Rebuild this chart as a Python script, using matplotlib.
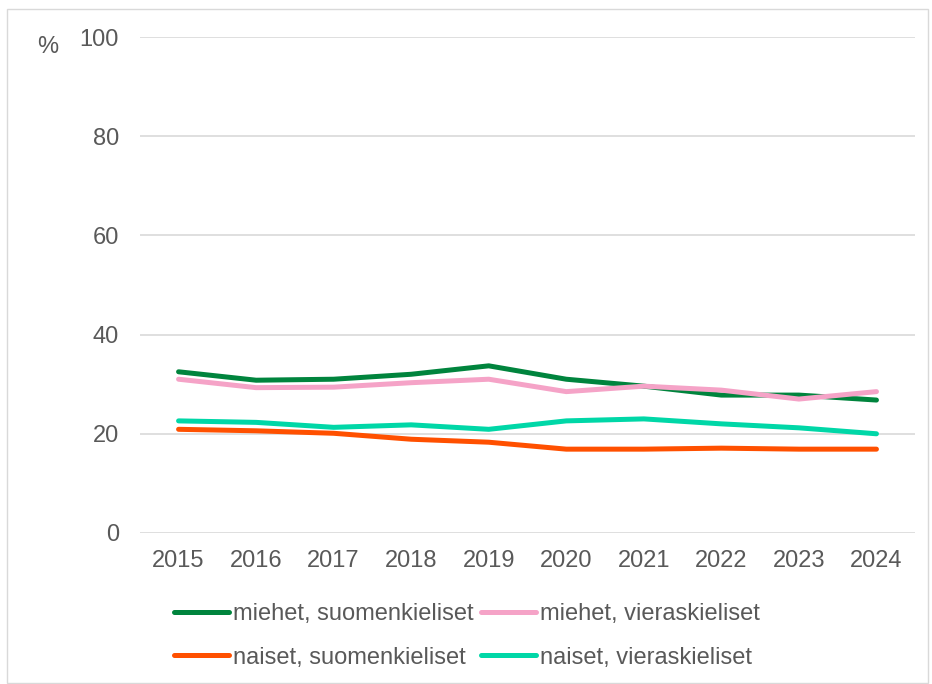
import matplotlib.pyplot as plt
from matplotlib.patches import Rectangle

plt.rcParams["font.family"] = ["Liberation Sans", "DejaVu Sans"]

years = ["2015", "2016", "2017", "2018", "2019", "2020", "2021", "2022", "2023", "2024"]
miehet_suomi = [32.5, 30.8, 31.0, 32.0, 33.7, 31.0, 29.6, 27.8, 27.8, 26.8]
miehet_vieras = [31.0, 29.3, 29.4, 30.3, 31.0, 28.5, 29.6, 28.8, 27.0, 28.5]
naiset_suomi = [20.9, 20.6, 20.1, 18.9, 18.3, 16.9, 16.9, 17.1, 16.9, 16.9]
naiset_vieras = [22.6, 22.3, 21.3, 21.8, 20.9, 22.6, 23.0, 22.0, 21.2, 20.0]
yticks = [0, 20, 40, 60, 80, 100]

text_col = "#595959"
grid_col = "#D9D9D9"

fig = plt.figure(figsize=(9.32, 6.84), dpi=100)
ax = fig.add_axes([0.150, 0.2208, 0.832, 0.7251])

x = range(len(years))
lw = 3.6
l1, = ax.plot(x, miehet_suomi, color="#00843D", lw=lw, solid_capstyle="round", label="miehet, suomenkieliset")
l2, = ax.plot(x, miehet_vieras, color="#F5A3C7", lw=lw, solid_capstyle="round", label="miehet, vieraskieliset")
l3, = ax.plot(x, naiset_suomi, color="#FF5000", lw=lw, solid_capstyle="round", label="naiset, suomenkieliset")
l4, = ax.plot(x, naiset_vieras, color="#00D7A7", lw=lw, solid_capstyle="round", label="naiset, vieraskieliset")

ax.set_xlim(-0.5, len(years) - 0.5)
ax.set_ylim(0, 100)
ax.set_yticks(yticks)
ax.set_xticks(list(x))
ax.set_xticklabels(years)
ax.grid(axis="y", color=grid_col, lw=1.2)
ax.set_axisbelow(True)
ax.tick_params(axis="both", length=0, labelsize=17, labelcolor=text_col)
ax.tick_params(axis="y", pad=15)
ax.tick_params(axis="x", pad=12)
for spine in ["top", "right", "left", "bottom"]:
    ax.spines[spine].set_visible(False)

fig.text(48 / 932, 1 - 47 / 684, "%", fontsize=17, color=text_col, ha="center", va="center")

leg = fig.legend(handles=[l1, l3, l2, l4], ncol=2, loc="upper left",
                 bbox_to_anchor=(165 / 932, 1 - 594 / 684), frameon=False,
                 fontsize=17, handlelength=2.33, handletextpad=0.17,
                 columnspacing=0.3, labelspacing=0.9, borderaxespad=0)
for t in leg.get_texts():
    t.set_color(text_col)

fig.patches.append(Rectangle((7 / 932, 0.002), 921 / 932, 1 - 10 / 684,
                             transform=fig.transFigure, fill=False,
                             edgecolor=grid_col, lw=1))

fig.savefig("out.png", dpi=100)
